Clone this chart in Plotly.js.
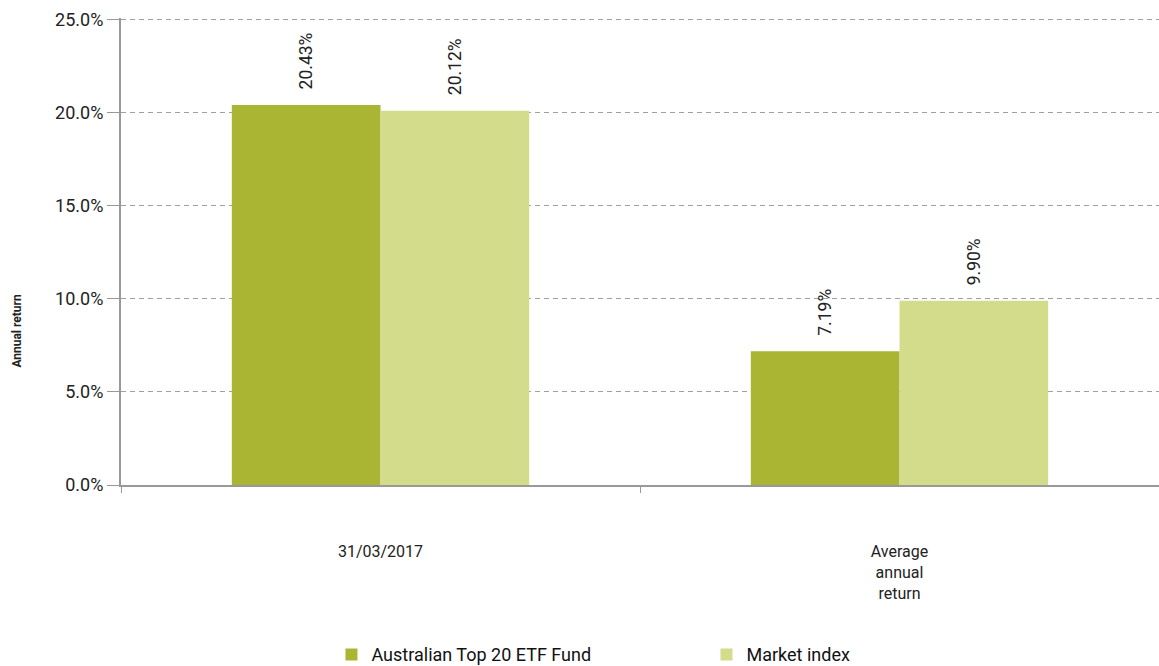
<!DOCTYPE html>
<html>
<head>
<meta charset="utf-8">
<script src="https://cdn.plot.ly/plotly-3.0.1.min.js"></script>
<style>html,body{margin:0;padding:0;overflow:hidden;background:#fff;}</style>
</head>
<body>
<div id="chart" style="width:1159px;height:666px;"></div>
<script>
const categories = ["31/03/2017", "Average<br>annual<br>return"];
const seriesNames = ["Australian Top 20 ETF Fund", "Market index"];
const fundValues = [20.43, 7.19];
const indexValues = [20.12, 9.90];
const colors = ["#AAB633", "#D2DC8B"];

const FONT = "Roboto, 'Open Sans', sans-serif";
const seriesValues = [fundValues, indexValues];

const traces = seriesValues.map((vals, i) => ({
  type: "bar",
  name: seriesNames[i],
  x: categories,
  y: vals,
  marker: {color: colors[i], line: {width: 0}},
  hoverinfo: "skip"
}));

const barOffsetPx = 74.5;
const annotations = [];
seriesValues.forEach((vals, i) => {
  vals.forEach((v, j) => {
    annotations.push({
      x: categories[j], y: v, xref: "x", yref: "y",
      text: v.toFixed(2) + "%",
      textangle: -90, showarrow: false,
      xanchor: "center", yanchor: "bottom",
      xshift: (i === 0 ? -1 : 1) * barOffsetPx, yshift: 13,
      font: {family: FONT, size: 17.5, color: "#222"}
    });
  });
});
annotations.push({
  xref: "paper", yref: "paper", x: -0.1, y: 0.331,
  text: "<b>Annual return</b>", textangle: -90, showarrow: false,
  xanchor: "center", yanchor: "middle",
  font: {family: FONT, size: 12, color: "#222"}
});

const layout = {
  width: 1159, height: 666,
  margin: {l: 121, r: 0, t: 18, b: 181},
  paper_bgcolor: "#fff", plot_bgcolor: "#fff",
  barmode: "group", bargap: 0.427, bargroupgap: 0,
  font: {family: FONT, size: 16, color: "#222"},
  showlegend: true,
  legend: {
    orientation: "h",
    xref: "container", x: 0.286, xanchor: "left",
    yref: "container", y: 0.017, yanchor: "middle",
    entrywidth: 330, entrywidthmode: "pixels",
    font: {family: FONT, size: 18, color: "#111"},
    itemclick: false, itemdoubleclick: false
  },
  xaxis: {
    type: "category", range: [-0.5, 1.5],
    tickson: "boundaries", ticks: "outside", ticklen: 6, tickcolor: "#999",
    showline: true, linecolor: "#999", linewidth: 2,
    showgrid: false, zeroline: false,
    ticklabelstandoff: 51,
    tickfont: {family: FONT, size: 16, color: "#222"}
  },
  yaxis: {
    range: [0, 25.1], dtick: 5, tick0: 0,
    tickformat: ".1f", ticksuffix: "%",
    ticks: "outside", ticklen: 12, tickcolor: "#999",
    showline: true, linecolor: "#999", linewidth: 2,
    showgrid: true, gridcolor: "#a0a0a0", griddash: "5px,4px", gridwidth: 1,
    zeroline: false,
    tickfont: {family: FONT, size: 18, color: "#222"}
  },
  annotations: annotations
};

Plotly.newPlot("chart", traces, layout, {displayModeBar: false, staticPlot: true});
</script>
</body>
</html>
